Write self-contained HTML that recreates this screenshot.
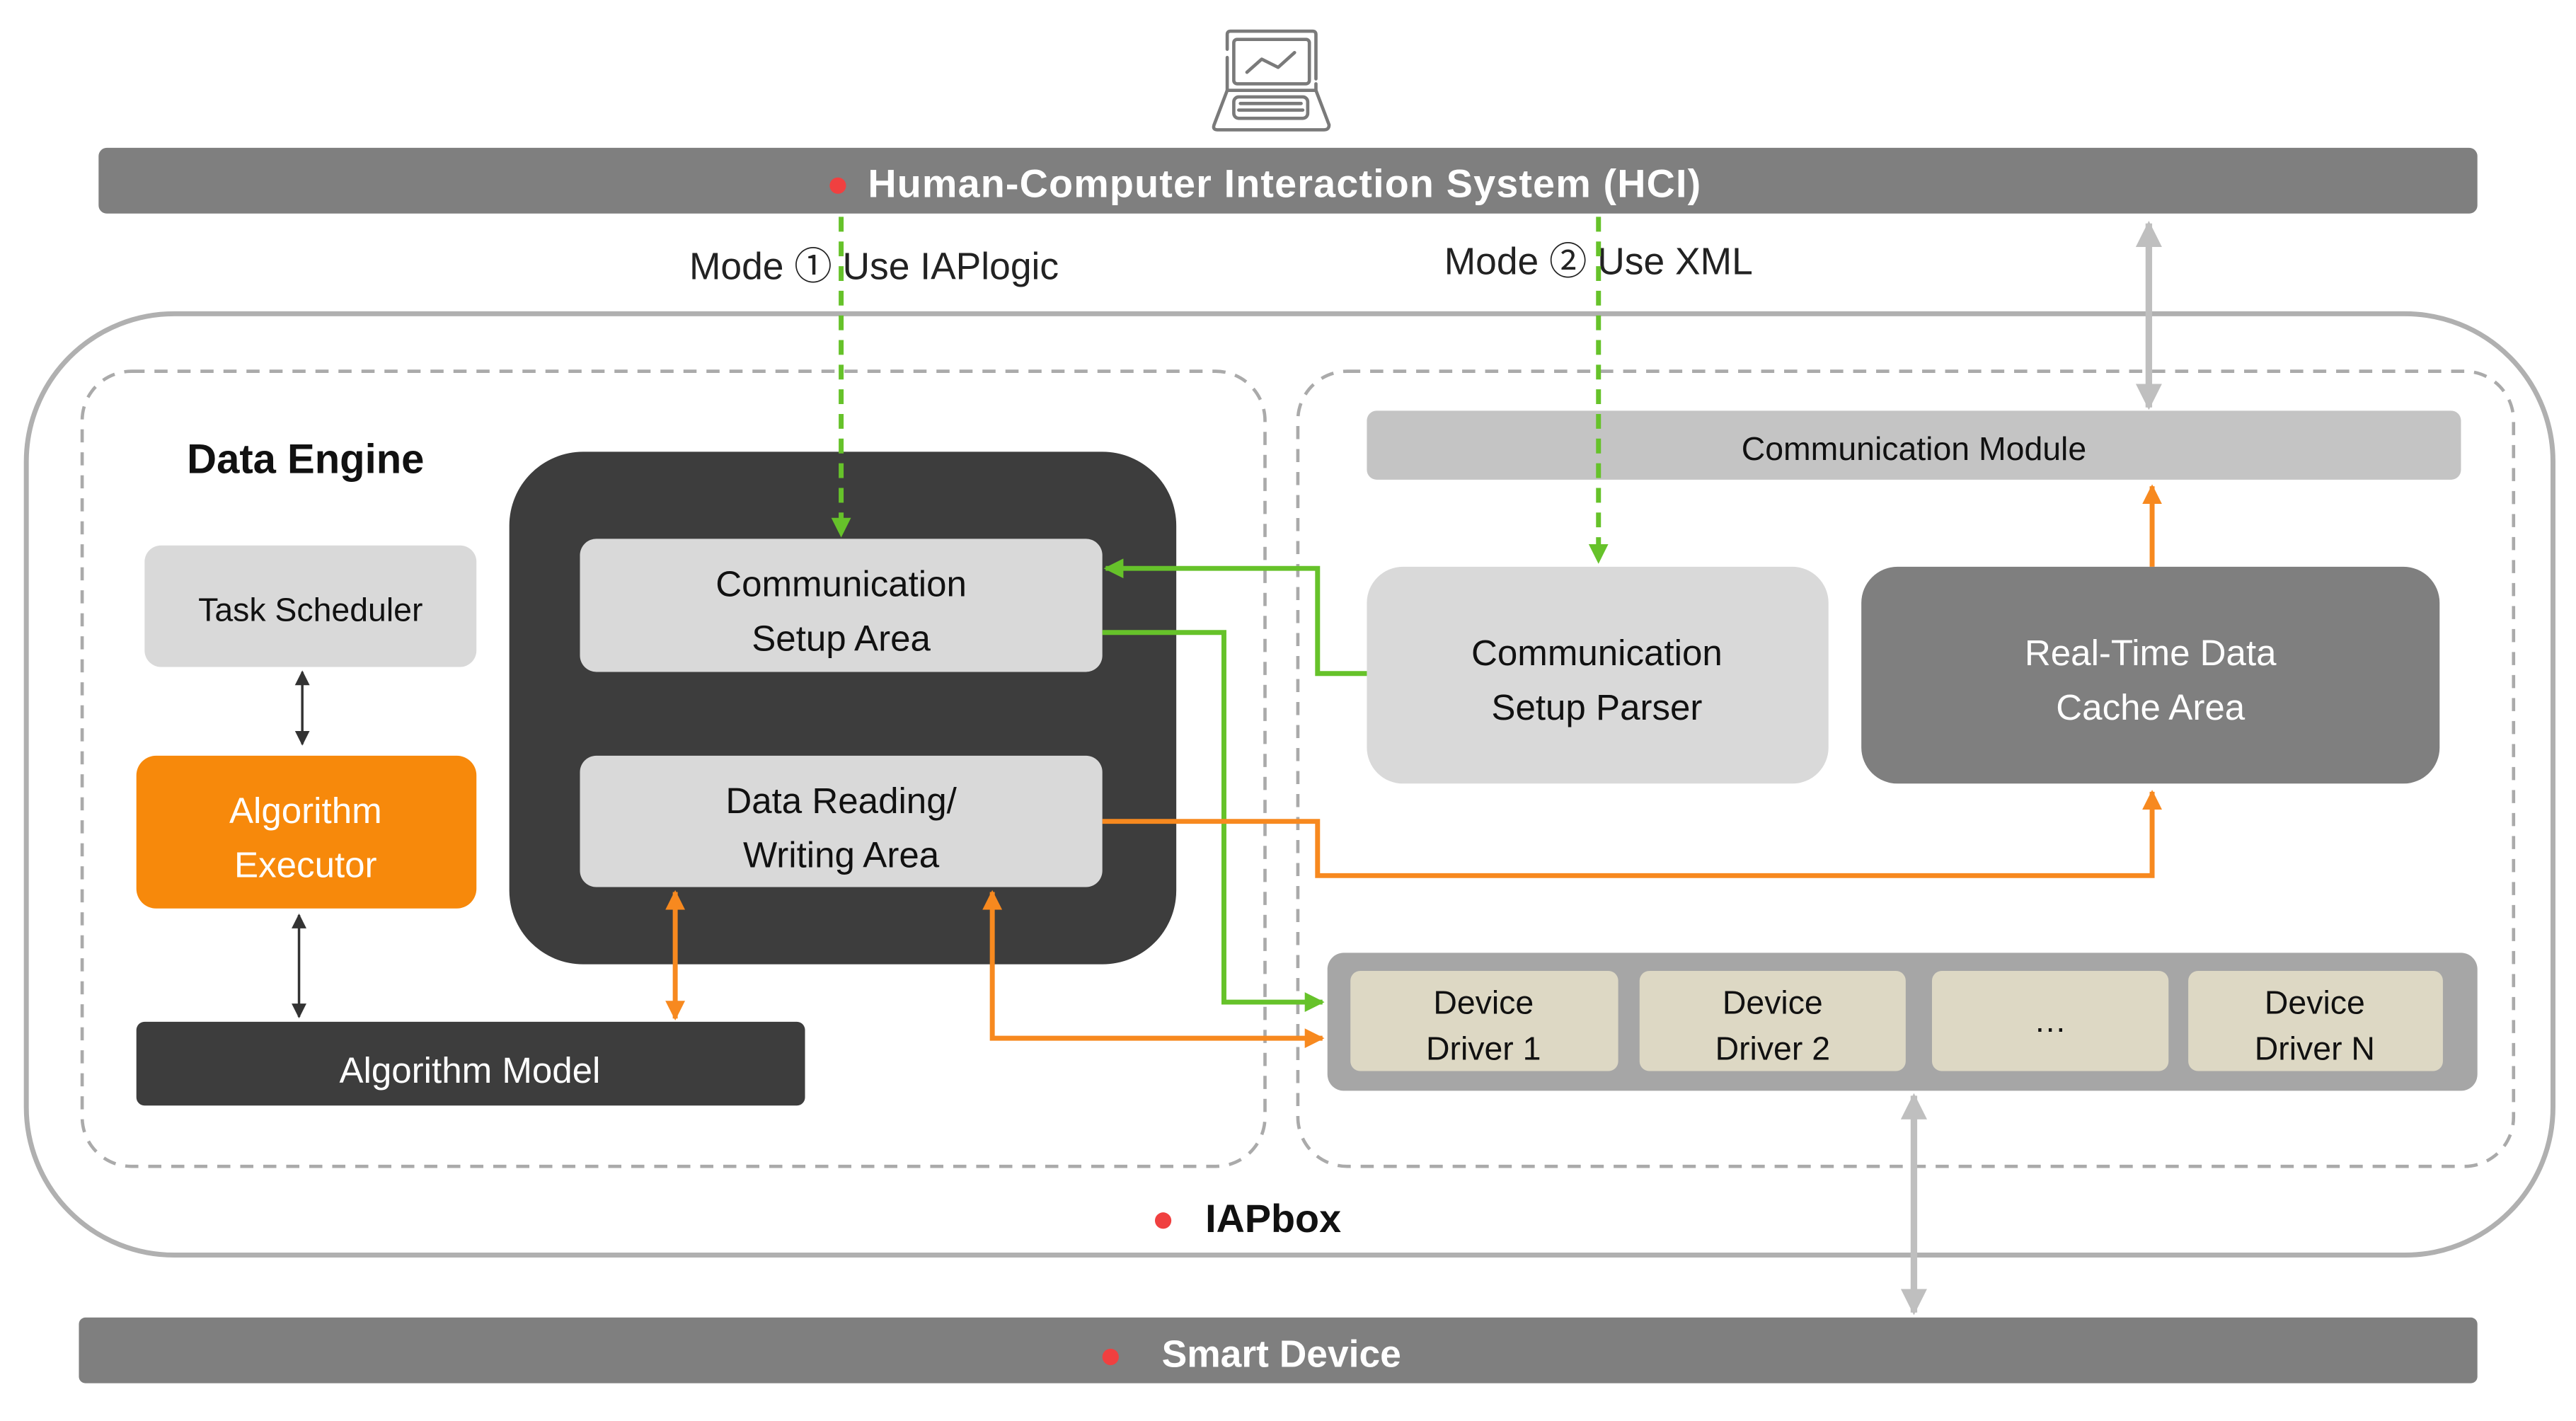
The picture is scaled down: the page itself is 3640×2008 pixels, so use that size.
<!DOCTYPE html>
<html><head><meta charset="utf-8"><style>
html,body{margin:0;padding:0;background:#fff}
svg{display:block}
text{font-family:"Liberation Sans","Noto Sans CJK JP",sans-serif}
</style></head><body>
<svg width="3640" height="2008" viewBox="0 0 1568 865" xmlns="http://www.w3.org/2000/svg">
<defs>
<marker id="ag" viewBox="0 0 10 10" refX="9" refY="5" markerWidth="4" markerHeight="4" orient="auto-start-reverse"><path d="M0,0L10,5L0,10z" fill="#66c22a"/></marker>
<marker id="ao" viewBox="0 0 10 10" refX="9" refY="5" markerWidth="4" markerHeight="4" orient="auto-start-reverse"><path d="M0,0L10,5L0,10z" fill="#f7891f"/></marker>
<marker id="ay" viewBox="0 0 10 10" refX="9" refY="5" markerWidth="4" markerHeight="4" orient="auto-start-reverse"><path d="M0,0L10,5L0,10z" fill="#bfbfbf"/></marker>
<marker id="ak" viewBox="0 0 10 10" refX="9" refY="5" markerWidth="6" markerHeight="6" orient="auto-start-reverse"><path d="M0,0L10,5L0,10z" fill="#333"/></marker>
</defs>
<!-- laptop -->
<g fill="none" stroke="#7a7a7a" stroke-width="2" stroke-linecap="round" stroke-linejoin="round">
<path d="M747,55 L747,35 M747,30 L747,21 Q747,19 749,19 L799,19 Q801,19 801,21 L801,48 M801,51 L801,55"/>
<rect x="751" y="24" width="46" height="27" rx="2"/>
<path d="M759,44 L768,36 L778,41 L788,32"/>
<path d="M747,55 L801,55 L809,76 Q809,79 806,79 L741,79 Q738,79 739,76 Z"/>
<rect x="751" y="59" width="45" height="13" rx="3"/>
<path d="M755,63 L792,63 M754,67 L793,67"/>
</g>
<!-- HCI bar -->
<rect x="60" y="90" width="1448" height="40" rx="5" fill="#7f7f7f"/>
<circle cx="510" cy="113" r="5" fill="#f04040"/>
<text x="782" y="120" font-size="24" font-weight="bold" fill="#fff" text-anchor="middle" letter-spacing="0.5">Human-Computer Interaction System (HCI)</text>
<!-- outer -->
<rect x="16" y="191" width="1538" height="573" rx="90" fill="none" stroke="#b0b0b0" stroke-width="3"/>
<rect x="50" y="226" width="720" height="484" rx="30" fill="none" stroke="#aaa" stroke-width="2" stroke-dasharray="8,6"/>
<rect x="790" y="226" width="740" height="484" rx="30" fill="none" stroke="#aaa" stroke-width="2" stroke-dasharray="8,6"/>
<text x="186" y="288" font-size="25" font-weight="bold" fill="#111" text-anchor="middle">Data Engine</text>
<text x="532" y="170" font-size="23" fill="#222" text-anchor="middle">Mode ① Use IAPlogic</text>
<text x="973" y="167" font-size="23" fill="#222" text-anchor="middle">Mode ② Use XML</text>
<!-- dark block -->
<rect x="310" y="275" width="406" height="312" rx="45" fill="#3d3d3d"/>
<rect x="353" y="328" width="318" height="81" rx="10" fill="#d9d9d9"/>
<text x="512" y="363" font-size="22" fill="#111" text-anchor="middle">Communication</text>
<text x="512" y="396" font-size="22" fill="#111" text-anchor="middle">Setup Area</text>
<rect x="353" y="460" width="318" height="80" rx="10" fill="#d9d9d9"/>
<text x="512" y="495" font-size="22" fill="#111" text-anchor="middle">Data Reading/</text>
<text x="512" y="528" font-size="22" fill="#111" text-anchor="middle">Writing Area</text>
<!-- left column -->
<rect x="88" y="332" width="202" height="74" rx="10" fill="#d9d9d9"/>
<text x="189" y="378" font-size="20" fill="#111" text-anchor="middle">Task Scheduler</text>
<rect x="83" y="460" width="207" height="93" rx="12" fill="#f7890b"/>
<text x="186" y="501" font-size="22" fill="#fff" text-anchor="middle">Algorithm</text>
<text x="186" y="534" font-size="22" fill="#fff" text-anchor="middle">Executor</text>
<rect x="83" y="622" width="407" height="51" rx="5" fill="#3d3d3d"/>
<text x="286" y="659" font-size="22" fill="#fff" text-anchor="middle">Algorithm Model</text>
<!-- right -->
<rect x="832" y="250" width="666" height="42" rx="6" fill="#c4c4c4"/>
<text x="1165" y="280" font-size="20" fill="#111" text-anchor="middle">Communication Module</text>
<rect x="832" y="345" width="281" height="132" rx="22" fill="#d9d9d9"/>
<text x="972" y="405" font-size="22" fill="#111" text-anchor="middle">Communication</text>
<text x="972" y="438" font-size="22" fill="#111" text-anchor="middle">Setup Parser</text>
<rect x="1133" y="345" width="352" height="132" rx="22" fill="#7f7f7f"/>
<text x="1309" y="405" font-size="22" fill="#fff" text-anchor="middle">Real-Time Data</text>
<text x="1309" y="438" font-size="22" fill="#fff" text-anchor="middle">Cache Area</text>
<rect x="808" y="580" width="700" height="84" rx="10" fill="#a6a6a6"/>
<g font-size="20" fill="#111" text-anchor="middle">
<rect x="822" y="591" width="163" height="61" rx="6" fill="#ddd8c4"/>
<text x="903" y="617">Device</text><text x="903" y="645">Driver 1</text>
<rect x="998" y="591" width="162" height="61" rx="6" fill="#ddd8c4"/>
<text x="1079" y="617">Device</text><text x="1079" y="645">Driver 2</text>
<rect x="1176" y="591" width="144" height="61" rx="6" fill="#ddd8c4"/>
<text x="1248" y="628">…</text>
<rect x="1332" y="591" width="155" height="61" rx="6" fill="#ddd8c4"/>
<text x="1409" y="617">Device</text><text x="1409" y="645">Driver N</text>
</g>
<!-- IAPbox label -->
<circle cx="708" cy="743" r="5" fill="#f04040"/>
<text x="775" y="750" font-size="24" font-weight="bold" fill="#111" text-anchor="middle">IAPbox</text>
<!-- smart device -->
<rect x="48" y="802" width="1460" height="40" rx="4" fill="#7f7f7f"/>
<circle cx="676" cy="826" r="5" fill="#f04040"/>
<text x="780" y="832" font-size="23" font-weight="bold" fill="#fff" text-anchor="middle">Smart Device</text>
<!-- connectors -->
<g fill="none" stroke-width="3">
<path d="M512,132 L512,326" stroke="#66c22a" stroke-dasharray="9,6" marker-end="url(#ag)"/>
<path d="M973,132 L973,342" stroke="#66c22a" stroke-dasharray="9,6" marker-end="url(#ag)"/>
<path d="M832,410 L802,410 L802,346 L673,346" stroke="#66c22a" marker-end="url(#ag)"/>
<path d="M671,385 L745,385 L745,610 L805,610" stroke="#66c22a" marker-end="url(#ag)"/>
<path d="M671,500 L802,500 L802,533 L1310,533 L1310,482" stroke="#f7891f" marker-end="url(#ao)"/>
<path d="M1310,345 L1310,296" stroke="#f7891f" marker-end="url(#ao)"/>
<path d="M411,543 L411,620" stroke="#f7891f" marker-start="url(#ao)" marker-end="url(#ao)"/>
<path d="M604,543 L604,632 L805,632" stroke="#f7891f" marker-start="url(#ao)" marker-end="url(#ao)"/>
<path d="M1308,136 L1308,248" stroke="#bfbfbf" stroke-width="4" marker-start="url(#ay)" marker-end="url(#ay)"/>
<path d="M1165,667 L1165,799" stroke="#bfbfbf" stroke-width="4" marker-start="url(#ay)" marker-end="url(#ay)"/>
<path d="M184,409 L184,453" stroke="#333" stroke-width="1.5" marker-start="url(#ak)" marker-end="url(#ak)"/>
<path d="M182,557 L182,619" stroke="#333" stroke-width="1.5" marker-start="url(#ak)" marker-end="url(#ak)"/>
</g>
</svg>
</body></html>
